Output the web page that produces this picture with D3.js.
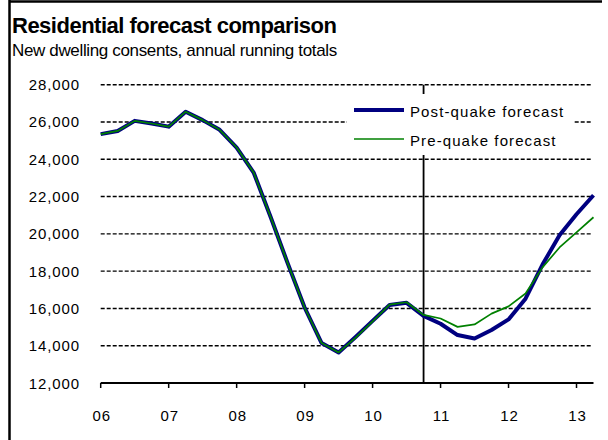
<!DOCTYPE html>
<html><head><meta charset="UTF-8">
<title>Residential forecast comparison</title>
<script src="https://d3js.org/d3.v7.min.js"></script>
<style>
  body { margin: 0; background: #fff; }
  text { font-family: "Liberation Sans", Arial, sans-serif; fill: #000; }
</style>
</head>
<body>
<svg width="608" height="440"></svg>
<script>
// quarterly points, as decimal years
const quarters = [2006.0, 2006.25, 2006.5, 2006.75, 2007.0, 2007.25, 2007.5, 2007.75,
                  2008.0, 2008.25, 2008.5, 2008.75, 2009.0, 2009.25, 2009.5, 2009.75,
                  2010.0, 2010.25, 2010.5, 2010.75, 2011.0, 2011.25, 2011.5, 2011.75,
                  2012.0, 2012.25, 2012.5, 2012.75, 2013.0, 2013.25];
const postQuake = [25350, 25520, 26060, 25920, 25750, 26550, 26100, 25580,
                   24630, 23290, 20900, 18430, 16050, 14140, 13640, 14470,
                   15330, 16180, 16300, 15600, 15180, 14570, 14390, 14840,
                   15410, 16520, 18350, 19930, 21050, 22070];
const preQuake  = [25350, 25520, 26060, 25920, 25750, 26550, 26100, 25580,
                   24630, 23290, 20900, 18430, 16050, 14140, 13640, 14430,
                   15300, 16200, 16330, 15650, 15460, 15010, 15140, 15720,
                   16110, 16800, 18200, 19270, 20080, 20890];
const yearTicks = [2006, 2007, 2008, 2009, 2010, 2011, 2012, 2013];
const yearLabels = ["06", "07", "08", "09", "10", "11", "12", "13"];
const valueTicks = [12000, 14000, 16000, 18000, 20000, 22000, 24000, 26000, 28000];
const quakeMark = 2010.75;
const seriesNames = ["Post-quake forecast", "Pre-quake forecast"];

const svg = d3.select("svg");

// frame (top and left edges)
svg.append("line").attr("x1", 9).attr("x2", 602).attr("y1", 1.5).attr("y2", 1.5)
   .attr("stroke", "#000").attr("stroke-width", 2.5);
svg.append("line").attr("x1", 9.5).attr("x2", 9.5).attr("y1", 0).attr("y2", 440)
   .attr("stroke", "#000").attr("stroke-width", 2.5);

// titles
svg.append("text").attr("x", 12).attr("y", 33)
   .style("font-size", "22px").style("font-weight", "bold").style("letter-spacing", "-0.5px")
   .text("Residential forecast comparison");
svg.append("text").attr("x", 12).attr("y", 56)
   .style("font-size", "17px").style("letter-spacing", "-0.35px")
   .text("New dwelling consents, annual running totals");

const x = d3.scaleLinear().domain([2006, 2013.25]).range([100.7, 593.5]);
const y = d3.scaleLinear().domain([12000, 28000]).range([383, 84.7]);

// dashed gridlines
svg.append("g").selectAll("line")
  .data(valueTicks.filter(v => v > 12000))
  .join("line")
    .attr("x1", x(2006)).attr("x2", x(2013.25) - 1)
    .attr("y1", d => y(d)).attr("y2", d => y(d))
    .attr("stroke", "#000").attr("stroke-width", 1.4)
    .attr("stroke-dasharray", "4,2");

// y labels
svg.append("g").selectAll("text")
  .data(valueTicks)
  .join("text")
    .attr("x", 80).attr("y", d => y(d))
    .attr("text-anchor", "end").attr("dominant-baseline", "central")
    .style("font-size", "15px").style("letter-spacing", "0.9px")
    .text(d => d3.format(",")(d));

// quake marker
svg.append("line")
   .attr("x1", x(quakeMark)).attr("x2", x(quakeMark))
   .attr("y1", y(28000)).attr("y2", y(12000))
   .attr("stroke", "#000").attr("stroke-width", 1.8);

// x axis
svg.append("line").attr("x1", x(2006)).attr("x2", x(2013.25))
   .attr("y1", y(12000)).attr("y2", y(12000))
   .attr("stroke", "#000").attr("stroke-width", 2);
svg.append("g").selectAll("line")
  .data(yearTicks)
  .join("line")
    .attr("x1", d => x(d)).attr("x2", d => x(d))
    .attr("y1", y(12000)).attr("y2", y(12000) + 5)
    .attr("stroke", "#000").attr("stroke-width", 1.5);
svg.append("g").selectAll("text")
  .data(yearTicks)
  .join("text")
    .attr("x", d => x(d) + 1).attr("y", 415)
    .attr("text-anchor", "middle").attr("dominant-baseline", "central")
    .style("font-size", "15px").style("letter-spacing", "0.9px")
    .text((d, i) => yearLabels[i]);

// lines
const line = d3.line().x((d, i) => x(quarters[i])).y(d => y(d));
svg.append("path").datum(postQuake)
   .attr("d", line).attr("fill", "none")
   .attr("stroke", "#000080").attr("stroke-width", 4).attr("stroke-linejoin", "round");
svg.append("path").datum(preQuake)
   .attr("d", line).attr("fill", "none")
   .attr("stroke", "#008000").attr("stroke-width", 1.7).attr("stroke-linejoin", "round");

// legend with white box
const lg = svg.append("g");
lg.append("rect").attr("x", 347).attr("y", 94).attr("width", 226).attr("height", 61)
  .attr("fill", "#fff");
const legendColors = ["#000080", "#008000"];
const legendWidths = [4, 1.7];
seriesNames.forEach((name, i) => {
  const ly = 110 + i * 29;
  lg.append("line").attr("x1", 354).attr("x2", 404).attr("y1", ly).attr("y2", ly)
    .attr("stroke", legendColors[i]).attr("stroke-width", legendWidths[i]);
  lg.append("text").attr("x", 410).attr("y", ly + 1)
    .attr("dominant-baseline", "central")
    .style("font-size", "15px").style("letter-spacing", "1.1px")
    .text(name);
});
</script>
</body></html>
